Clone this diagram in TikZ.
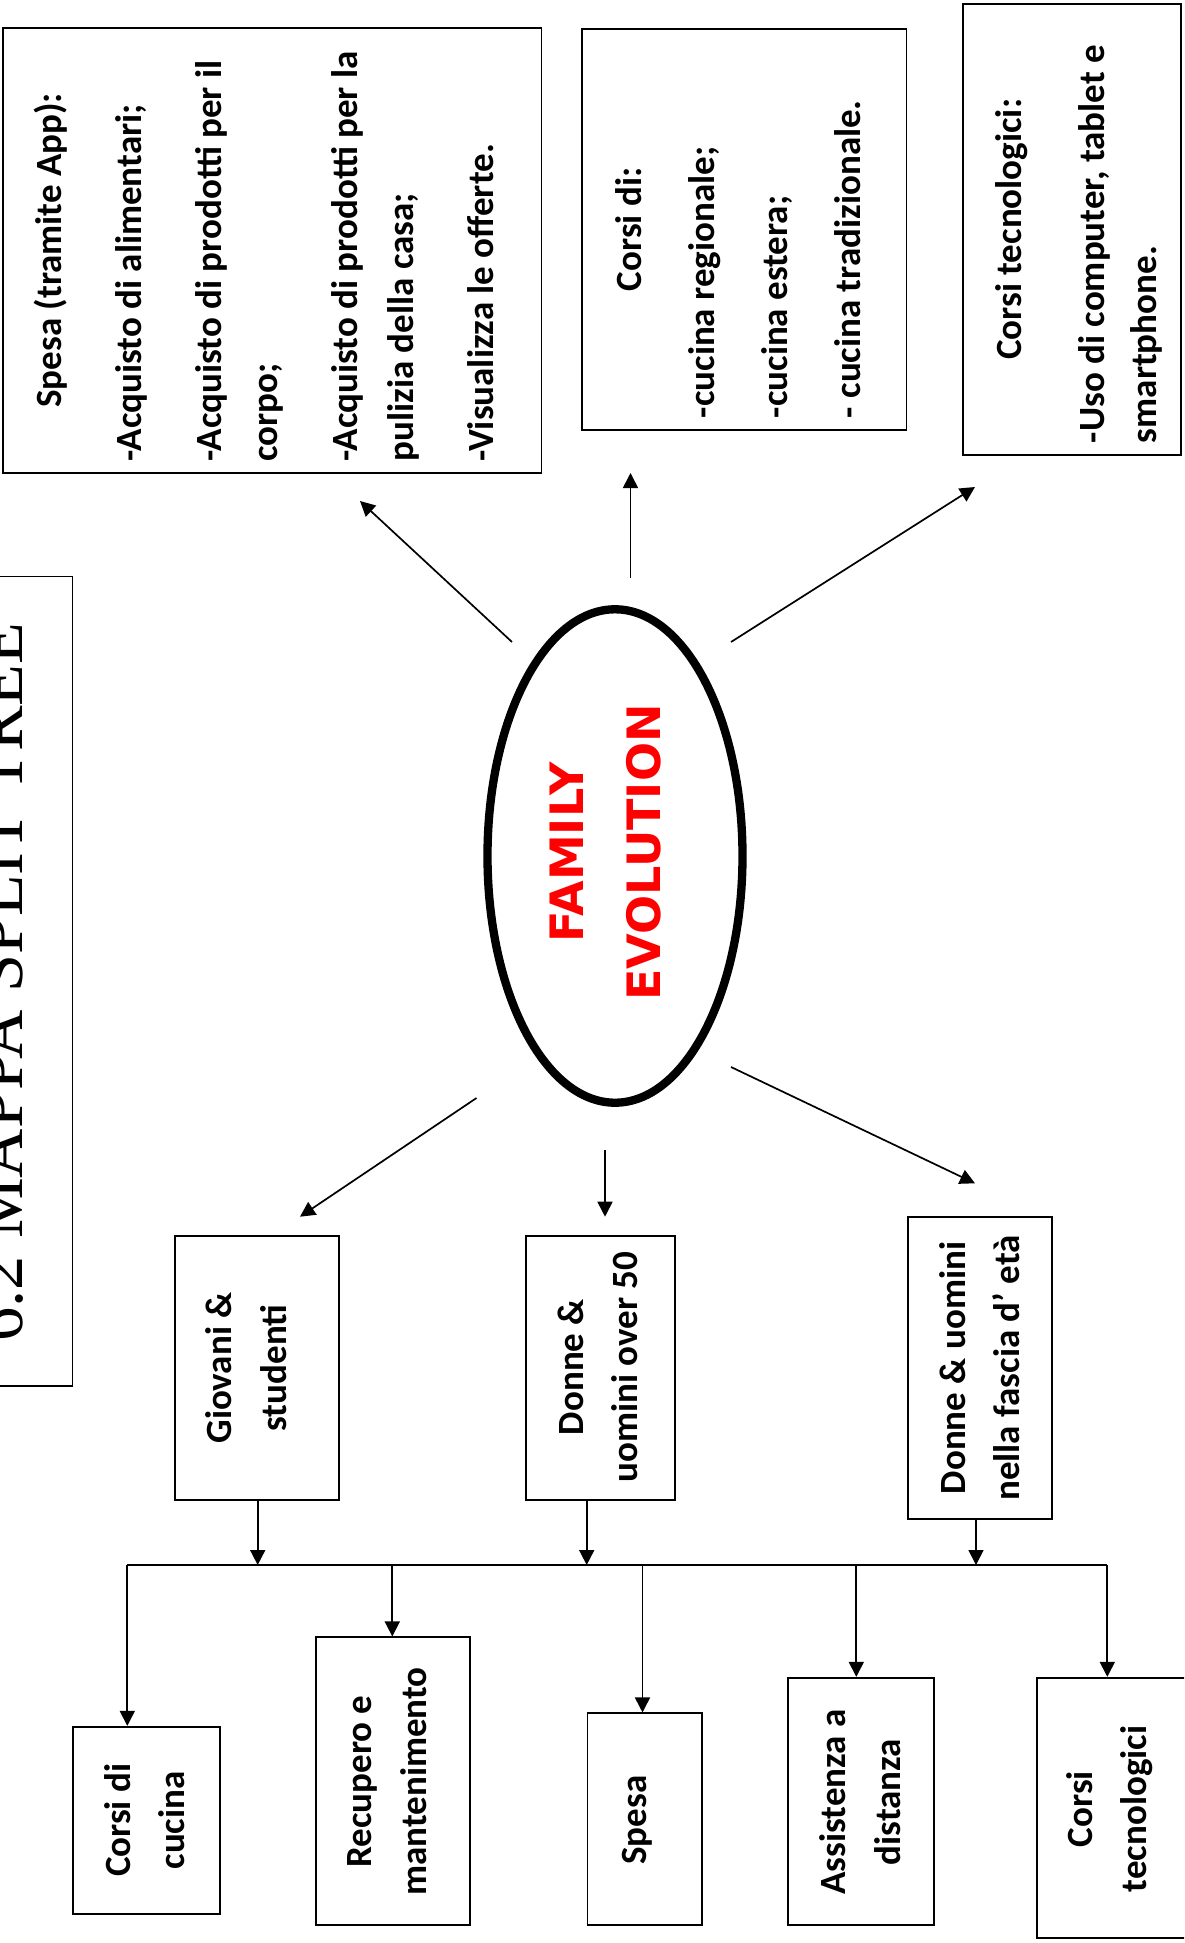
\documentclass[tikz,border=0pt]{standalone}
\usepackage{fontspec}
\setmainfont{Carlito}
\newfontfamily\titlefont{Liberation Serif}
\newfontfamily\famfont{DejaVu Sans}
\usetikzlibrary{arrows.meta,shapes.geometric}
\begin{document}
\begin{tikzpicture}[x=1pt,y=-1pt,
  boxn/.style={draw,line width=1.7pt,inner sep=0pt},
  txt/.style={rotate=90,inner sep=0pt},
  bigtxt/.style={txt,anchor=base west,font=\fontsize{37}{56.25}\selectfont\bfseries},
  smalltxt/.style={txt,anchor=base,font=\fontsize{37}{54.5}\selectfont\bfseries},
  arr/.style={line width=1.7pt,-{Triangle[length=15pt,width=15pt]}},
  ln/.style={line width=1.7pt}]
\useasboundingbox (0,0) rectangle (1184,1943);
\clip (0,0) rectangle (1184,1943);

% title
\node[boxn,line width=1.5pt,minimum width=112.7pt,minimum height=809.5pt] (titlebox) at (16.35,981.25) {};
\node[txt,anchor=base,font=\titlefont\fontsize{68.3}{80}\selectfont] (titlet) at (22.3,982) {6.2 MAPPA SPLIT TREE};

% top boxes
\node[boxn,minimum width=538.4pt,minimum height=445pt] (spesa) at (272.3,250.8) {};
\node[bigtxt] (spesat) at (61,461.7) {\begin{tabular}[t]{@{}l@{}}
\makebox[422.4pt]{Spesa (tramite App):}\\[23.75pt]
-Acquisto di alimentari;\\[23.75pt]
-Acquisto di prodotti per il\\
corpo;\\[23.75pt]
-Acquisto di prodotti per la\\
pulizia della casa;\\[23.75pt]
-Visualizza le offerte.
\end{tabular}};

\node[boxn,minimum width=324.3pt,minimum height=401pt] (corsi) at (744.45,229.5) {};
\node[bigtxt] (corsit) at (641,418.3) {\begin{tabular}[t]{@{}l@{}}
\makebox[377.6pt]{Corsi di:}\\[17pt]
-cucina regionale;\\[17pt]
-cucina estera;\\[17pt]
- cucina tradizionale.
\end{tabular}};

\node[boxn,minimum width=218pt,minimum height=451pt] (tech) at (1072,229.5) {};
\node[bigtxt] (techt) at (1021,443.3) {\begin{tabular}[t]{@{}l@{}}
\makebox[427.6pt]{Corsi tecnologici:}\\[26.75pt]
-Uso di computer, tablet e\\[-3.6pt]
smartphone.
\end{tabular}};

% centre
\node[draw,ellipse,line width=8.3pt,minimum width=255pt,minimum height=493.4pt,inner sep=0pt] (fe) at (615,856) {};
\node[txt,anchor=base,text=red,font=\famfont\bfseries\fontsize{46}{76.7}\selectfont] (fet) at (583.3,852.5) {\begin{tabular}[t]{@{}c@{}}FAMILY\\EVOLUTION\end{tabular}};

\coordinate (uls) at (512,642);   \coordinate (ule) at (360,501);
\coordinate (ups) at (630.5,578); \coordinate (upe) at (630.5,473);
\coordinate (urs) at (731,642);   \coordinate (ure) at (975,487);
\coordinate (lls) at (476.5,1098);\coordinate (lle) at (300,1216.7);
\coordinate (dns) at (605,1150);  \coordinate (dne) at (605,1216.7);
\coordinate (lrs) at (731,1067);  \coordinate (lre) at (975,1183.3);
\draw[arr] (uls) -- (ule);
\draw[arr] (ups) -- (upe);
\draw[arr] (urs) -- (ure);
\draw[arr] (lls) -- (lle);
\draw[arr] (dns) -- (dne);
\draw[arr] (lrs) -- (lre);

% middle boxes
\node[boxn,minimum width=164pt,minimum height=264pt] (giov) at (257,1368) {};
\node[smalltxt] (giovt) at (231.7,1368) {\begin{tabular}[t]{@{}c@{}}Giovani \&\\studenti\end{tabular}};
\node[boxn,minimum width=149.3pt,minimum height=264pt] (donne) at (600.65,1368) {};
\node[smalltxt] (donnet) at (583.3,1367) {\begin{tabular}[t]{@{}c@{}}Donne \&\\uomini over 50\end{tabular}};
\node[boxn,minimum width=143.4pt,minimum height=302.6pt] (fascia) at (980,1368) {};
\node[smalltxt] (fasciat) at (965,1368) {\begin{tabular}[t]{@{}c@{}}Donne \& uomini\\nella fascia d’ età\end{tabular}};

% bus
\coordinate (busL) at (127.3,1565);
\coordinate (busR) at (1107.3,1565);
\coordinate (j1) at (257.7,1565);
\coordinate (j2) at (586.7,1565);
\coordinate (j3) at (976,1565);
\coordinate (d2) at (392.3,1565);
\coordinate (d3) at (642.5,1565);
\coordinate (d4) at (856.3,1565);
\draw[ln] (busL) -- (busR);
\draw[arr] (giov.south -| j1) -- (j1);
\draw[arr] (donne.south -| j2) -- (j2);
\draw[arr] (fascia.south -| j3) -- (j3);

% bottom boxes
\node[boxn,minimum width=147.3pt,minimum height=187.3pt] (cucina) at (146.35,1820.35) {};
\node[smalltxt] (cucinat) at (130,1820.3) {\begin{tabular}[t]{@{}c@{}}Corsi di\\cucina\end{tabular}};
\node[boxn,minimum width=154.3pt,minimum height=287.7pt] (recup) at (392.85,1781.15) {};
\node[smalltxt] (recupt) at (371.7,1781.5) {\begin{tabular}[t]{@{}c@{}}Recupero e\\mantenimento\end{tabular}};
\node[boxn,minimum width=114.7pt,minimum height=211.7pt] (spesab) at (644.95,1819.15) {};
\node[smalltxt] (spesabt) at (646,1820) {Spesa};
\node[boxn,minimum width=146pt,minimum height=247.3pt] (assist) at (861,1801.35) {};
\node[smalltxt] (assistt) at (845.7,1802) {\begin{tabular}[t]{@{}c@{}}Assistenza a\\distanza\end{tabular}};
\node[boxn,minimum width=153.3pt,minimum height=260.6pt] (techb) at (1113.35,1808) {};
\node[smalltxt] (techbt) at (1092.3,1809) {\begin{tabular}[t]{@{}c@{}}Corsi\\tecnologici\end{tabular}};

\draw[arr] (busL) -- (cucina.north -| busL);
\draw[arr] (d2) -- (recup.north -| d2);
\draw[arr] (d3) -- (spesab.north -| d3);
\draw[arr] (d4) -- (assist.north -| d4);
\draw[arr] (busR) -- (techb.north -| busR);
\end{tikzpicture}
\end{document}
